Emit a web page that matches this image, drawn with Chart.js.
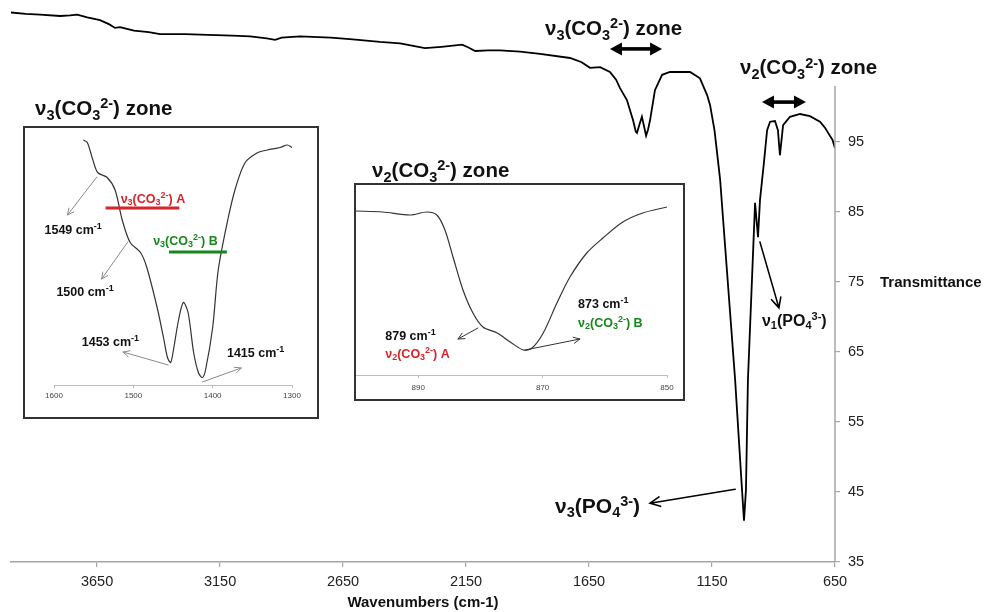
<!DOCTYPE html>
<html>
<head>
<meta charset="utf-8">
<script src="https://cdn.jsdelivr.net/npm/chart.js@4/dist/chart.umd.min.js"></script>
<style>
    body { margin: 0; background: #fff; }
    #wrap { position: relative; width: 985px; height: 612px; overflow: hidden; }
    #main { position: absolute; left: 0; top: 0; }
    .inset { position: absolute; border: 2px solid #333; background: #fff; }
    .inset canvas { display: block; }
</style>
</head>
<body>
<div id="wrap">
    <canvas id="main" width="985" height="612"></canvas>
    <div class="inset" style="left:23px;top:126px;width:292px;height:289px">
        <canvas id="inset1" width="292" height="289"></canvas>
    </div>
    <div class="inset" style="left:354px;top:183px;width:327px;height:214px">
        <canvas id="inset2" width="327" height="214"></canvas>
    </div>
</div>
<script>
const FONT = '"Liberation Sans", Arial, sans-serif';
const RED = '#d8232a';
const GREEN = '#17871c';

// Full spectrum
const mainWavenumber = [4000, 3940, 3882, 3800, 3760, 3731, 3690, 3638, 3600, 3577, 3557, 3500, 3440, 3394, 3292, 3200,
    3100, 3028, 2960, 2926, 2900, 2825, 2700, 2622, 2500, 2418, 2317, 2250, 2166, 2140, 2113, 2060, 2012, 1930,
    1849, 1727, 1680, 1646, 1605, 1565, 1540, 1524, 1496, 1471, 1460, 1455, 1445, 1435, 1428, 1418, 1410, 1402,
    1382, 1353, 1321, 1239, 1199, 1170, 1158, 1140, 1126, 1117, 1056, 1028, 1020, 1012, 1004, 975, 963, 955,
    940, 926, 914, 894, 882, 874, 861, 833, 792, 752, 711, 690, 678, 660, 650];
const mainTransmittance = [113.5, 113.3, 113.2, 113.0, 113.1, 113.2, 112.8, 112.4, 111.8, 111.3, 111.4, 110.9, 110.7, 110.4, 110.4, 110.3,
    110.2, 110.1, 109.8, 109.6, 109.9, 110.1, 109.9, 109.7, 109.3, 109.1, 108.4, 108.6, 108.9, 108.5, 108.0, 108.1, 108.1, 107.9,
    107.6, 107.0, 106.4, 105.6, 105.7, 105.0, 103.9, 102.7, 101.0, 98.1, 96.5, 96.3, 97.5, 98.6, 97.5, 95.9, 96.8, 98.1,
    102.4, 104.6, 105.0, 105.0, 104.1, 101.7, 100.3, 96.7, 92.4, 89.6, 61.0, 45.3, 40.9, 45.3, 61.0, 86.3, 81.4, 86.7,
    91.7, 96.7, 97.9, 98.0, 96.7, 93.1, 97.4, 98.6, 99.0, 98.7, 97.9, 97.0, 96.3, 95.3, 94.1];
const mainXTicks = [3650, 3150, 2650, 2150, 1650, 1150, 650];
const mainYTicks = [35, 45, 55, 65, 75, 85, 95];

// Zoom on the v3(CO3) zone
const inset1Wavenumber = [1563, 1558, 1551, 1545, 1533, 1523, 1514, 1504, 1491, 1483, 1470, 1462, 1457, 1453,
    1450, 1443, 1437, 1431, 1424, 1418, 1413, 1409, 1400, 1393, 1381, 1371, 1359, 1343, 1331, 1315, 1306, 1300];
const inset1Signal = [98, 97, 90, 85, 83, 78, 66, 57, 53, 47, 31, 19, 11, 9,
    13, 26, 33, 29, 13, 5, 3, 6, 23, 46, 66, 79, 89, 93, 94, 95, 96, 95];
const inset1Ticks = [1600, 1500, 1400, 1300];

// Zoom on the v2(CO3) zone
const inset2Wavenumber = [900, 895.7, 891.3, 888.6, 887, 885.7, 884.4, 882.8, 881.2, 879.6, 877.3, 875.2, 873.1,
    871.7, 869.9, 867.7, 865.6, 862.9, 860.3, 857.1, 853.9, 850];
const inset2Signal = [82, 81.5, 80, 81.5, 80, 72.5, 59, 42.5, 31, 24, 21, 16.5, 12.5,
    13.5, 21, 36, 49, 61, 68.5, 76.5, 81, 84];
const inset2Ticks = [890, 870, 850];

// Annotations, in data units of each chart
const mainNotes = [
    {text: 'ν{3}(CO{3}[2-]) zone', x: 3902, y: 99.9, size: 20.5},
    {text: 'ν{2}(CO{3}[2-]) zone', x: 2532, y: 91, size: 20.5},
    {text: 'ν{3}(CO{3}[2-]) zone', x: 1829, y: 111.3, size: 20.5},
    {text: 'ν{2}(CO{3}[2-]) zone', x: 1036, y: 105.7, size: 20.5},
    {text: 'ν{1}(PO{4}[3-])', x: 947, y: 69.6, size: 16},
    {text: 'ν{3}(PO{4}[3-])', x: 1788, y: 43.1, size: 21},
    {text: 'Transmittance', x: 467, y: 75, size: 15}
];
const mainArrows = [
    {x1: 1056, y1: 45.4, x2: 1402, y2: 43.4},
    {x1: 955, y1: 80.7, x2: 878, y2: 71.3}
];
const mainRanges = [
    {x1: 1565, x2: 1353, y: 108.3},
    {x1: 947, x2: 768, y: 100.7}
];

const inset1Notes = [
    {text: 'ν{3}(CO{3}[2-]) A', x: 1516, y: 74.8, size: 12.5, color: RED},
    {text: 'ν{3}(CO{3}[2-]) B', x: 1475, y: 58, size: 12.5, color: GREEN},
    {text: '1549 cm[-1]', x: 1612, y: 62.4, size: 12.5},
    {text: '1500 cm[-1]', x: 1597, y: 37.6, size: 12.5},
    {text: '1453 cm[-1]', x: 1565, y: 17.6, size: 12.5},
    {text: '1415 cm[-1]', x: 1382, y: 13.2, size: 12.5}
];
const inset1Bars = [
    {x1: 1535, x2: 1442, y: 70.8, color: RED},
    {x1: 1455, x2: 1382, y: 53.2, color: GREEN}
];
const inset1Arrows = [
    {x1: 1546, y1: 83.2, x2: 1583, y2: 68},
    {x1: 1507, y1: 57.2, x2: 1540, y2: 42.4},
    {x1: 1456, y1: 8, x2: 1513, y2: 13.2},
    {x1: 1413, y1: 1.2, x2: 1364, y2: 6.8}
];

const inset2Notes = [
    {text: '879 cm[-1]', x: 895.3, y: 20, size: 12.5},
    {text: 'ν{2}(CO{3}[2-]) A', x: 895.3, y: 11, size: 12.5, color: RED},
    {text: '873 cm[-1]', x: 864.3, y: 36, size: 12.5},
    {text: 'ν{2}(CO{3}[2-]) B', x: 864.3, y: 26.5, size: 12.5, color: GREEN}
];
const inset2Arrows = [
    {x1: 880.4, y1: 23.5, x2: 883.6, y2: 18},
    {x1: 872.8, y1: 12.5, x2: 864, y2: 18}
];

Chart.defaults.font.family = FONT;

/**
 * Draw a bold label where {..} is a subscript and [..] a superscript.
 */
function richText(ctx, markup, x, y, size, color) {
    const parts = [];
    const re = /\{([^}]*)\}|\[([^\]]*)\]|([^{\[]+)/g;
    let m;
    while ((m = re.exec(markup))) {
        if (m[1] !== undefined) parts.push({t: m[1], k: 'sub'});
        else if (m[2] !== undefined) parts.push({t: m[2], k: 'sup'});
        else parts.push({t: m[3], k: 'n'});
    }
    const small = Math.round(size * 0.7 * 2) / 2;
    const fontFor = k => 'bold ' + (k === 'n' ? size : small) + 'px ' + FONT;
    const base = y + size * 0.36;
    ctx.save();
    ctx.fillStyle = color || '#111';
    ctx.textAlign = 'left';
    ctx.textBaseline = 'alphabetic';
    let cx = x;
    parts.forEach(p => {
        ctx.font = fontFor(p.k);
        const dy = p.k === 'sub' ? size * 0.22 : p.k === 'sup' ? -size * 0.34 : 0;
        ctx.fillText(p.t, cx, base + dy);
        cx += ctx.measureText(p.t).width;
    });
    ctx.restore();
}

function arrow(ctx, x1, y1, x2, y2, color, width, head) {
    const a = Math.atan2(y2 - y1, x2 - x1);
    ctx.save();
    ctx.strokeStyle = color;
    ctx.lineWidth = width;
    ctx.lineCap = 'round';
    ctx.beginPath();
    ctx.moveTo(x1, y1);
    ctx.lineTo(x2, y2);
    ctx.moveTo(x2 - head * Math.cos(a - 0.45), y2 - head * Math.sin(a - 0.45));
    ctx.lineTo(x2, y2);
    ctx.lineTo(x2 - head * Math.cos(a + 0.45), y2 - head * Math.sin(a + 0.45));
    ctx.stroke();
    ctx.restore();
}

function doubleArrow(ctx, x1, x2, y) {
    const left = Math.min(x1, x2), right = Math.max(x1, x2);
    const hl = 12, hw = 6.5;
    ctx.save();
    ctx.fillStyle = '#000';
    ctx.fillRect(left + hl - 1, y - 1.8, right - left - 2 * hl + 2, 3.6);
    ctx.beginPath();
    ctx.moveTo(left, y);
    ctx.lineTo(left + hl, y - hw);
    ctx.lineTo(left + hl, y + hw);
    ctx.closePath();
    ctx.moveTo(right, y);
    ctx.lineTo(right - hl, y - hw);
    ctx.lineTo(right - hl, y + hw);
    ctx.closePath();
    ctx.fill();
    ctx.restore();
}

function decorPlugin(id, notes, arrows, arrowStyle, bars, ranges, yAxisTop) {
    return {
        id: id,
        afterDraw(chart) {
            const ctx = chart.ctx;
            const sx = chart.scales.x, sy = chart.scales.y;
            const px = v => sx.getPixelForValue(v);
            const py = v => sy.getPixelForValue(v);
            if (yAxisTop !== undefined) {
                ctx.save();
                ctx.strokeStyle = '#a6a6a6';
                ctx.lineWidth = 1.5;
                ctx.beginPath();
                ctx.moveTo(chart.chartArea.right, py(sy.min));
                ctx.lineTo(chart.chartArea.right, py(yAxisTop));
                ctx.stroke();
                ctx.restore();
            }
            (bars || []).forEach(b => {
                ctx.save();
                ctx.strokeStyle = b.color;
                ctx.lineWidth = 3;
                ctx.beginPath();
                ctx.moveTo(px(b.x1), py(b.y));
                ctx.lineTo(px(b.x2), py(b.y));
                ctx.stroke();
                ctx.restore();
            });
            (ranges || []).forEach(r => doubleArrow(ctx, px(r.x1), px(r.x2), py(r.y)));
            arrows.forEach(a => arrow(ctx, px(a.x1), py(a.y1), px(a.x2), py(a.y2),
                arrowStyle.color, arrowStyle.width, arrowStyle.head));
            notes.forEach(n => richText(ctx, n.text, px(n.x), py(n.y), n.size, n.color));
        }
    };
}

function points(xs, ys) {
    return xs.map((x, i) => ({x: x, y: ys[i]}));
}

function fixedTicks(list) {
    return scale => { scale.ticks = list.map(v => ({value: v})); };
}

// The label overhang would otherwise shrink the plot area.
function noOverhang(scale) {
    scale.paddingTop = 0;
    scale.paddingBottom = 0;
    scale.paddingLeft = 0;
    scale.paddingRight = 0;
}

// Main spectrum
new Chart(document.getElementById('main'), {
    type: 'line',
    data: {
        datasets: [{
            data: points(mainWavenumber, mainTransmittance),
            borderColor: '#000',
            borderWidth: 1.8,
            pointRadius: 0,
            tension: 0
        }]
    },
    options: {
        responsive: false,
        animation: false,
        layout: {padding: {left: 11, top: 2, right: 0, bottom: 0}},
        plugins: {legend: {display: false}, tooltip: {enabled: false}},
        scales: {
            x: {
                type: 'linear', reverse: true, min: 650, max: 4000,
                afterBuildTicks: fixedTicks(mainXTicks),
                afterFit: s => { s.height = 50; noOverhang(s); },
                border: {color: '#a6a6a6', width: 1.5},
                grid: {drawOnChartArea: false, tickLength: 5, color: '#a6a6a6', lineWidth: 1.2},
                ticks: {font: {size: 14.5}, color: '#222', padding: 6, maxRotation: 0, autoSkip: false,
                    callback: v => String(v)},
                title: {display: true, text: 'Wavenumbers (cm-1)', color: '#111',
                    font: {size: 15, weight: 'bold'}, padding: {top: 0, bottom: 0}}
            },
            y: {
                type: 'linear', position: 'right', min: 35, max: 115,
                afterBuildTicks: fixedTicks(mainYTicks),
                afterFit: s => { s.width = 150; noOverhang(s); },
                border: {display: false},
                grid: {drawOnChartArea: false, tickLength: 5, color: '#a6a6a6', lineWidth: 1.2},
                ticks: {font: {size: 14.5}, color: '#222', padding: 8, callback: v => String(v)}
            }
        }
    },
    plugins: [decorPlugin('mainDecor', mainNotes, mainArrows, {color: '#000', width: 1.6, head: 11},
        [], mainRanges, 103)]
});

// v3(CO3) zoom
new Chart(document.getElementById('inset1'), {
    type: 'line',
    data: {
        datasets: [{
            data: points(inset1Wavenumber, inset1Signal),
            borderColor: '#333',
            borderWidth: 1.2,
            pointRadius: 0,
            tension: 0.3
        }]
    },
    options: {
        responsive: false,
        animation: false,
        layout: {padding: {left: 29, right: 25, top: 2, bottom: 0}},
        plugins: {legend: {display: false}, tooltip: {enabled: false}},
        scales: {
            x: {
                type: 'linear', reverse: true, min: 1300, max: 1600,
                afterBuildTicks: fixedTicks(inset1Ticks),
                afterFit: s => { s.height = 32; noOverhang(s); },
                border: {color: '#bdbdbd'},
                grid: {drawOnChartArea: false, tickLength: 3, color: '#bdbdbd'},
                ticks: {font: {size: 8}, color: '#444', padding: 3, maxRotation: 0, autoSkip: false,
                    callback: v => String(v)}
            },
            y: {display: false, min: 0, max: 102}
        }
    },
    plugins: [decorPlugin('inset1Decor', inset1Notes, inset1Arrows, {color: '#8a8a8a', width: 1, head: 7},
        inset1Bars, [])]
});

// v2(CO3) zoom
new Chart(document.getElementById('inset2'), {
    type: 'line',
    data: {
        datasets: [{
            data: points(inset2Wavenumber, inset2Signal),
            borderColor: '#333',
            borderWidth: 1.2,
            pointRadius: 0,
            tension: 0.3
        }]
    },
    options: {
        responsive: false,
        animation: false,
        layout: {padding: {left: 0, right: 16, top: 3, bottom: 0}},
        plugins: {legend: {display: false}, tooltip: {enabled: false}},
        scales: {
            x: {
                type: 'linear', reverse: true, min: 850, max: 900,
                afterBuildTicks: fixedTicks(inset2Ticks),
                afterFit: s => { s.height = 24; noOverhang(s); },
                border: {color: '#bdbdbd'},
                grid: {drawOnChartArea: false, tickLength: 3, color: '#bdbdbd'},
                ticks: {font: {size: 8}, color: '#444', padding: 5, maxRotation: 0, autoSkip: false,
                    callback: v => String(v)}
            },
            y: {display: false, min: 0, max: 93.5}
        }
    },
    plugins: [decorPlugin('inset2Decor', inset2Notes, inset2Arrows, {color: '#333', width: 1, head: 7},
        [], [])]
});
</script>
</body>
</html>
